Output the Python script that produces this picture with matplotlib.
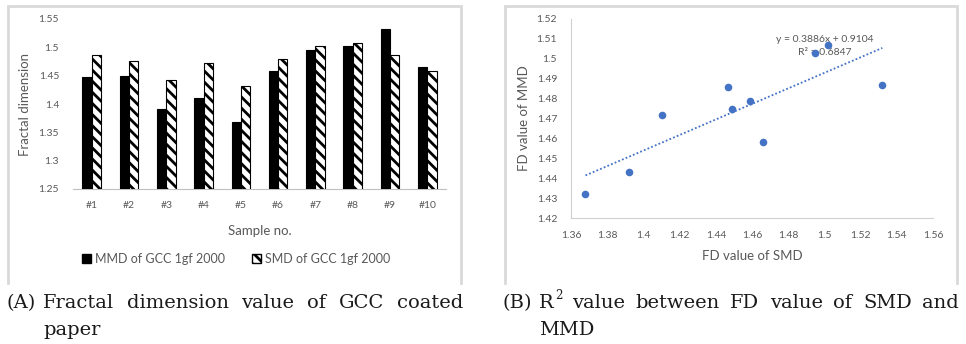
import numpy as np
import matplotlib
matplotlib.use("Agg")
import matplotlib.pyplot as plt
from matplotlib.patches import Patch

# ---------------- data ----------------
samples = ["#1", "#2", "#3", "#4", "#5", "#6", "#7", "#8", "#9", "#10"]
mmd = [1.447, 1.449, 1.392, 1.410, 1.368, 1.459, 1.495, 1.502, 1.532, 1.466]
smd = [1.486, 1.475, 1.443, 1.472, 1.432, 1.479, 1.503, 1.507, 1.487, 1.458]
bar_yticks = [1.25, 1.3, 1.35, 1.4, 1.45, 1.5, 1.55]
sc_xticks = [1.36, 1.38, 1.4, 1.42, 1.44, 1.46, 1.48, 1.5, 1.52, 1.54, 1.56]
sc_yticks = [1.42, 1.43, 1.44, 1.45, 1.46, 1.47, 1.48, 1.49, 1.5, 1.51, 1.52]
legend_labels = ["MMD of GCC 1gf 2000", "SMD of GCC 1gf 2000"]
eq_text = "y = 0.3886x + 0.9104"
r2_text = "R\u00b2 = 0.6847"
caption_a = ["Fractal", "dimension", "value", "of", "GCC", "coated"]
caption_b = ["value", "between", "FD", "value", "of", "SMD", "and"]

W, H = 966, 344
plt.rcParams["font.family"] = ["Lato", "DejaVu Sans"]
plt.rcParams["hatch.linewidth"] = 2.0
plt.rcParams["hatch.color"] = "black"
fig = plt.figure(figsize=(W / 100, H / 100), dpi=100)
fig.patch.set_facecolor("white")

def px_axes(l, t, r, b):
    return fig.add_axes([l / W, 1 - b / H, (r - l) / W, (b - t) / H])

def fmt(v):
    return ("%.2f" % v).rstrip("0").rstrip(".")

gray_txt = "#595959"

# ---------------- panel borders ----------------
border = fig.add_axes([0, 0, 1, 1], zorder=-5)
border.set_xlim(0, W)
border.set_ylim(H, 0)
border.axis("off")
for (l, r) in [(8, 461), (505, 957)]:
    border.plot([l, l, r, r], [283, 6, 6, 283], color="#d9d9d9", lw=2, solid_joinstyle="miter")

# ---------------- (A) bar chart ----------------
ax = px_axes(73, 19, 446, 189)
x = np.arange(len(samples))
bw = 0.25
ax.bar(x - bw / 2, mmd, bw, color="black", edgecolor="black", linewidth=0.8, zorder=3)
ax.bar(x + bw / 2, smd, bw, color="white", edgecolor="black", hatch="\\\\\\", linewidth=0.8, zorder=3)
ax.set_ylim(1.25, 1.55)
ax.set_xlim(-0.5, len(samples) - 0.5)
ax.set_yticks(bar_yticks)
ax.set_yticklabels([fmt(v) for v in bar_yticks])
ax.set_xticks(x)
ax.set_xticklabels(samples)
ax.tick_params(axis="both", length=0, labelsize=7.5, labelcolor=gray_txt)
ax.tick_params(axis="y", pad=10)
ax.tick_params(axis="x", pad=9)
for s in ["top", "right", "left"]:
    ax.spines[s].set_visible(False)
ax.spines["bottom"].set_color("#bfbfbf")
ax.spines["bottom"].set_linewidth(0.8)
ax.set_ylabel("Fractal dimension", fontsize=9.5, color=gray_txt)
ax.yaxis.set_label_coords(-0.113, 0.5)
ax.set_xlabel("Sample no.", fontsize=9.5, color=gray_txt)
ax.xaxis.set_label_coords(0.5, -0.212)

handles = [Patch(facecolor="black", edgecolor="black"),
           Patch(facecolor="white", edgecolor="black", hatch="\\\\\\")]
fig.legend(handles, legend_labels, loc="center", bbox_to_anchor=(236 / W, 1 - 259 / H),
           ncol=2, frameon=False, fontsize=9, labelcolor=gray_txt,
           handlelength=0.7, handleheight=0.7, handletextpad=0.3, columnspacing=2.2)

# ---------------- (B) scatter ----------------
ax2 = px_axes(571, 19, 933, 218)
mmd_a = np.array(mmd)
smd_a = np.array(smd)
ax2.scatter(mmd_a, smd_a, s=30, color="#4472C4", zorder=3, linewidths=0)
coef = np.polyfit(mmd_a, smd_a, 1)
xl = np.array([mmd_a.min(), mmd_a.max()])
ax2.plot(xl, np.polyval(coef, xl), color="#4472C4", lw=1.3, ls=(0, (1, 1.2)), zorder=2)
ax2.set_xlim(1.36, 1.56)
ax2.set_ylim(1.42, 1.52)
ax2.set_xticks(sc_xticks)
ax2.set_xticklabels([fmt(v) for v in sc_xticks])
ax2.set_yticks(sc_yticks)
ax2.set_yticklabels([fmt(v) for v in sc_yticks])
ax2.tick_params(axis="both", length=0, labelsize=7.5, labelcolor=gray_txt)
ax2.tick_params(axis="y", pad=10)
ax2.tick_params(axis="x", pad=9)
for s in ["top", "right"]:
    ax2.spines[s].set_visible(False)
for s in ["left", "bottom"]:
    ax2.spines[s].set_color("#d0d0d0")
    ax2.spines[s].set_linewidth(0.8)
ax2.set_ylabel("FD value of MMD", fontsize=9.5, color=gray_txt)
ax2.yaxis.set_label_coords(-0.113, 0.5)
ax2.set_xlabel("FD value of SMD", fontsize=9.5, color=gray_txt)
ax2.xaxis.set_label_coords(0.5, -0.161)
ax2.text(1.4735, 1.5095, eq_text, fontsize=7.5, color=gray_txt, va="center", ha="left", zorder=1)
ax2.text(1.4854, 1.5030, r2_text, fontsize=7.5, color=gray_txt, va="center", ha="left", zorder=1)

# ---------------- captions (justified) ----------------
cap_font = dict(family="DejaVu Serif", fontsize=14, color="#1a1a1a", va="baseline", ha="left")
renderer = fig.canvas.get_renderer()

def ptext(xp, yp, s, **kw):
    return fig.text(xp / W, 1 - yp / H, s, **kw)

def width_px(t):
    return t.get_window_extent(renderer=renderer).width

def justify(words, x0, x1, yp, lead=None):
    texts = []
    xcur = x0
    if lead is not None:
        texts.append(lead)
    objs = [ptext(0, yp, w, **cap_font) for w in words]
    widths = [width_px(o) for o in objs]
    extra = (lead_w if False else 0)
    gap = (x1 - x0 - sum(widths)) / (len(words) - 1)
    for o, wdt in zip(objs, widths):
        o.set_x(xcur / W)
        xcur += wdt + gap
    return objs

ptext(7, 308, "(A)", **cap_font)
justify(caption_a, 43, 463, 308)
ptext(43, 335, "paper", **cap_font)

ptext(503, 308, "(B)", **cap_font)
r_obj = ptext(539, 308, "R", **cap_font)
r_w = width_px(r_obj)
sup_font = dict(cap_font)
sup_font["fontsize"] = 8.5
ptext(539 + r_w + 1, 299, "2", **sup_font)
justify(caption_b, 572, 959, 308)
ptext(539, 335, "MMD", **cap_font)

fig.savefig("out.png", dpi=100, facecolor="white")
